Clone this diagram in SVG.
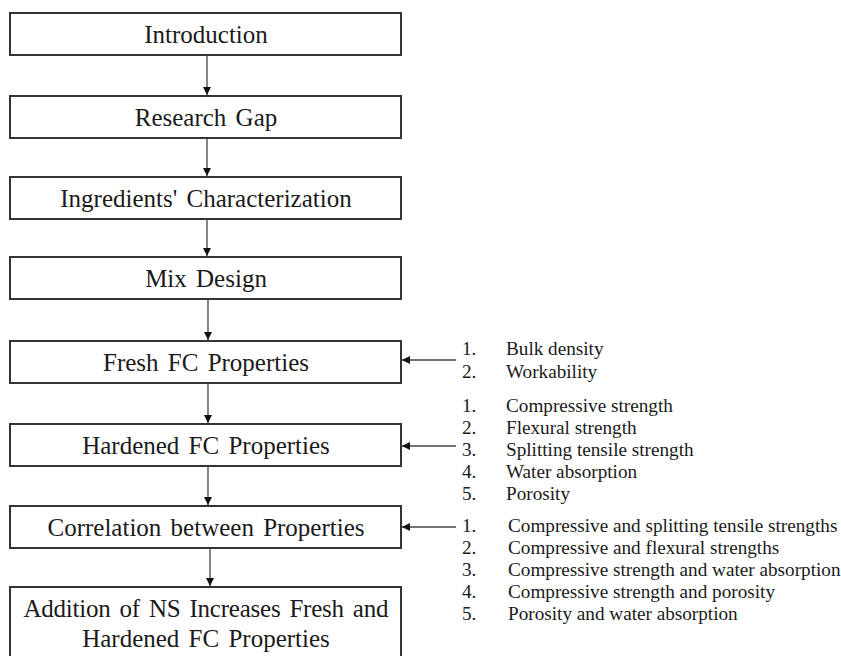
<svg xmlns="http://www.w3.org/2000/svg" width="841" height="656" viewBox="0 0 841 656">
<style>
.box{fill:#fff;stroke:#333;stroke-width:2}
.bt{font-family:"Liberation Serif","Times New Roman",serif;font-size:25px;fill:#1a1a1a;text-anchor:middle;word-spacing:3px}
.lt{font-family:"Liberation Serif","Times New Roman",serif;font-size:19.2px;fill:#1a1a1a}
.con{stroke:#444;stroke-width:1.3;fill:none;marker-end:url(#ah)}
</style>
<defs>
<marker id="ah" viewBox="0 0 10 10" refX="10" refY="5" markerWidth="8" markerHeight="8" markerUnits="userSpaceOnUse" orient="auto">
<path d="M0,0 L10,5 L0,10 Z" fill="#111"/>
</marker>
</defs>
<rect width="841" height="656" fill="#fff"/>
<g id="n1"><rect class="box" x="10" y="13" width="391" height="42"/><text class="bt" x="206" y="43">Introduction</text></g>
<g id="n2"><rect class="box" x="10" y="96" width="391" height="42"/><text class="bt" x="206" y="126">Research Gap</text></g>
<g id="n3"><rect class="box" x="10" y="177" width="391" height="42"/><text class="bt" x="206" y="207">Ingredients' Characterization</text></g>
<g id="n4"><rect class="box" x="10" y="257" width="391" height="42"/><text class="bt" x="206" y="287">Mix Design</text></g>
<g id="n5"><rect class="box" x="10" y="341" width="391" height="42"/><text class="bt" x="206" y="371">Fresh FC Properties</text></g>
<g id="n6"><rect class="box" x="10" y="424" width="391" height="42"/><text class="bt" x="206" y="454">Hardened FC Properties</text></g>
<g id="n7"><rect class="box" x="10" y="506" width="391" height="42"/><text class="bt" x="206" y="536">Correlation between Properties</text></g>
<g id="n8"><rect class="box" x="10" y="587" width="391" height="80"/><text class="bt" x="206" y="617" textLength="365" lengthAdjust="spacing">Addition of NS Increases Fresh and</text><text class="bt" x="206" y="647">Hardened FC Properties</text></g>
<g id="list1" class="lt">
<text x="462" y="355">1.</text><text x="506" y="355">Bulk density</text>
<text x="462" y="378">2.</text><text x="506" y="378">Workability</text>
</g>
<g id="list2" class="lt">
<text x="462" y="412">1.</text><text x="506" y="412">Compressive strength</text>
<text x="462" y="434">2.</text><text x="506" y="434">Flexural strength</text>
<text x="462" y="456">3.</text><text x="506" y="456">Splitting tensile strength</text>
<text x="462" y="478">4.</text><text x="506" y="478">Water absorption</text>
<text x="462" y="500">5.</text><text x="506" y="500">Porosity</text>
</g>
<g id="list3" class="lt">
<text x="462" y="532">1.</text><text x="508" y="532">Compressive and splitting tensile strengths</text>
<text x="462" y="554">2.</text><text x="508" y="554">Compressive and flexural strengths</text>
<text x="462" y="576">3.</text><text x="508" y="576">Compressive strength and water absorption</text>
<text x="462" y="598">4.</text><text x="508" y="598">Compressive strength and porosity</text>
<text x="462" y="620">5.</text><text x="508" y="620">Porosity and water absorption</text>
</g>
<g id="connectors">
<line class="con" x1="207" y1="55" x2="207" y2="95"/>
<line class="con" x1="207" y1="138" x2="207" y2="176"/>
<line class="con" x1="207" y1="219" x2="207" y2="256"/>
<line class="con" x1="208" y1="299" x2="208" y2="340"/>
<line class="con" x1="208" y1="383" x2="208" y2="423"/>
<line class="con" x1="208" y1="466" x2="208" y2="505"/>
<line class="con" x1="210" y1="548" x2="210" y2="586"/>
<line class="con" x1="456" y1="360" x2="402" y2="360"/>
<line class="con" x1="456" y1="446" x2="402" y2="446"/>
<line class="con" x1="456" y1="527" x2="402" y2="527"/>
</g>
</svg>
